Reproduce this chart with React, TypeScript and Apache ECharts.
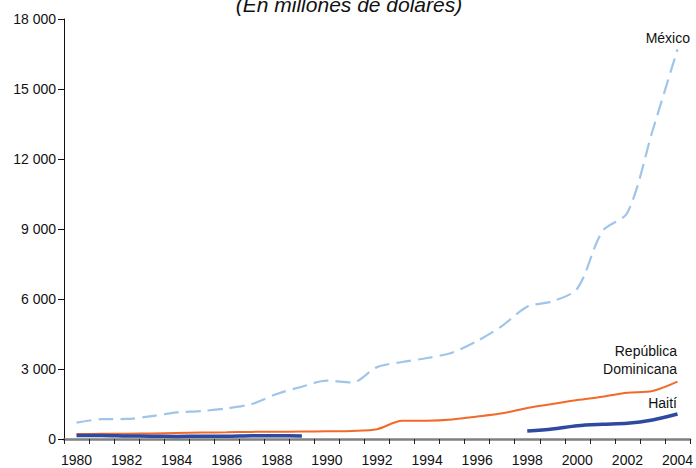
import React, { useEffect, useRef } from "react";
import * as echarts from "echarts";

const years = [
  "1980", "1981", "1982", "1983", "1984", "1985", "1986", "1987", "1988", "1989",
  "1990", "1991", "1992", "1993", "1994", "1995", "1996", "1997", "1998", "1999",
  "2000", "2001", "2002", "2003", "2004",
];

const mexico = [
  700, 850, 860, 980, 1140, 1200, 1315, 1500, 1930, 2240,
  2500, 2420, 3080, 3300, 3470, 3700, 4200, 4850, 5670, 5900,
  6450, 8900, 9700, 13200, 16700,
];

const republicaDominicana = [
  210, 220, 230, 235, 260, 280, 285, 305, 310, 320,
  330, 345, 420, 780, 785, 840, 960, 1100, 1330, 1500,
  1670, 1810, 1985, 2060, 2460,
];

const haiti: (number | null)[] = [
  150, 150, 130, 120, 110, 120, 120, 140, 140, 130,
  null, null, null, null, null, null, null, null, 340, 430,
  570, 630, 670, 815, 1070,
];

const yTicks = { min: 0, max: 18000, interval: 3000 };

const fmt = (v: number) => {
  const s = String(Math.round(v));
  return s.replace(/\B(?=(\d{3})+(?!\d))/g, " ");
};

export default function App() {
  const ref = useRef<HTMLDivElement>(null);
  useEffect(() => {
    if (!ref.current) return;
    const chart = echarts.init(ref.current, null, { renderer: "svg" });
    const font = "'Liberation Sans', Arial, Helvetica, sans-serif";
    chart.setOption({
      animation: false,
      backgroundColor: "#ffffff",
      textStyle: { fontFamily: font },
      grid: { left: 64, right: 2, top: 19, bottom: 29, containLabel: false },
      xAxis: {
        type: "category",
        data: years,
        boundaryGap: true,
        axisLine: { show: true, lineStyle: { color: "#808080", width: 2.5 } },
        axisTick: {
          show: true,
          interval: 0,
          alignWithLabel: false,
          length: 5,
          lineStyle: { color: "#222", width: 1 },
        },
        axisLabel: {
          interval: 1,
          margin: 14,
          color: "#111",
          fontSize: 14,
          fontFamily: font,
        },
        splitLine: { show: false },
      },
      yAxis: {
        type: "value",
        min: yTicks.min,
        max: yTicks.max,
        interval: yTicks.interval,
        axisLine: { show: true, lineStyle: { color: "#111", width: 1 } },
        axisTick: { show: true, length: 6, lineStyle: { color: "#111", width: 1 } },
        axisLabel: {
          margin: 8,
          color: "#111",
          fontSize: 14,
          fontFamily: font,
          formatter: (v: number) => fmt(v),
        },
        splitLine: { show: false },
      },
      series: [
        {
          name: "México",
          type: "line",
          data: mexico,
          smooth: 0.3,
          showSymbol: false,
          symbol: "none",
          lineStyle: { color: "#9fc5ea", width: 2.2, type: [15, 7] },
          z: 2,
        },
        {
          name: "República Dominicana",
          type: "line",
          data: republicaDominicana,
          smooth: 0.3,
          showSymbol: false,
          symbol: "none",
          lineStyle: { color: "#f26a2a", width: 2 },
          z: 3,
        },
        {
          name: "Haití",
          type: "line",
          data: haiti,
          smooth: 0.3,
          connectNulls: false,
          showSymbol: false,
          symbol: "none",
          lineStyle: { color: "#2d4aa0", width: 3.5 },
          z: 4,
        },
      ],
      graphic: [
        {
          type: "text",
          x: 349,
          y: 4,
          style: {
            text: "(En millones de dólares)",
            fontSize: 21,
            fontStyle: "italic",
            fontFamily: font,
            fill: "#111",
            textAlign: "center",
            textVerticalAlign: "middle",
          },
        },
        {
          type: "text",
          x: 690,
          y: 38,
          style: {
            text: "México",
            fontSize: 14,
            fontFamily: font,
            fill: "#111",
            textAlign: "right",
            textVerticalAlign: "middle",
          },
        },
        {
          type: "text",
          x: 677,
          y: 351,
          style: {
            text: "República",
            fontSize: 14,
            fontFamily: font,
            fill: "#111",
            textAlign: "right",
            textVerticalAlign: "middle",
          },
        },
        {
          type: "text",
          x: 677,
          y: 369,
          style: {
            text: "Dominicana",
            fontSize: 14,
            fontFamily: font,
            fill: "#111",
            textAlign: "right",
            textVerticalAlign: "middle",
          },
        },
        {
          type: "text",
          x: 677,
          y: 403,
          style: {
            text: "Haití",
            fontSize: 14,
            fontFamily: font,
            fill: "#111",
            textAlign: "right",
            textVerticalAlign: "middle",
          },
        },
      ],
    });
    return () => chart.dispose();
  }, []);
  return <div ref={ref} style={{ width: 696, height: 468, position: "fixed", left: 0, top: 0 }} />;
}
